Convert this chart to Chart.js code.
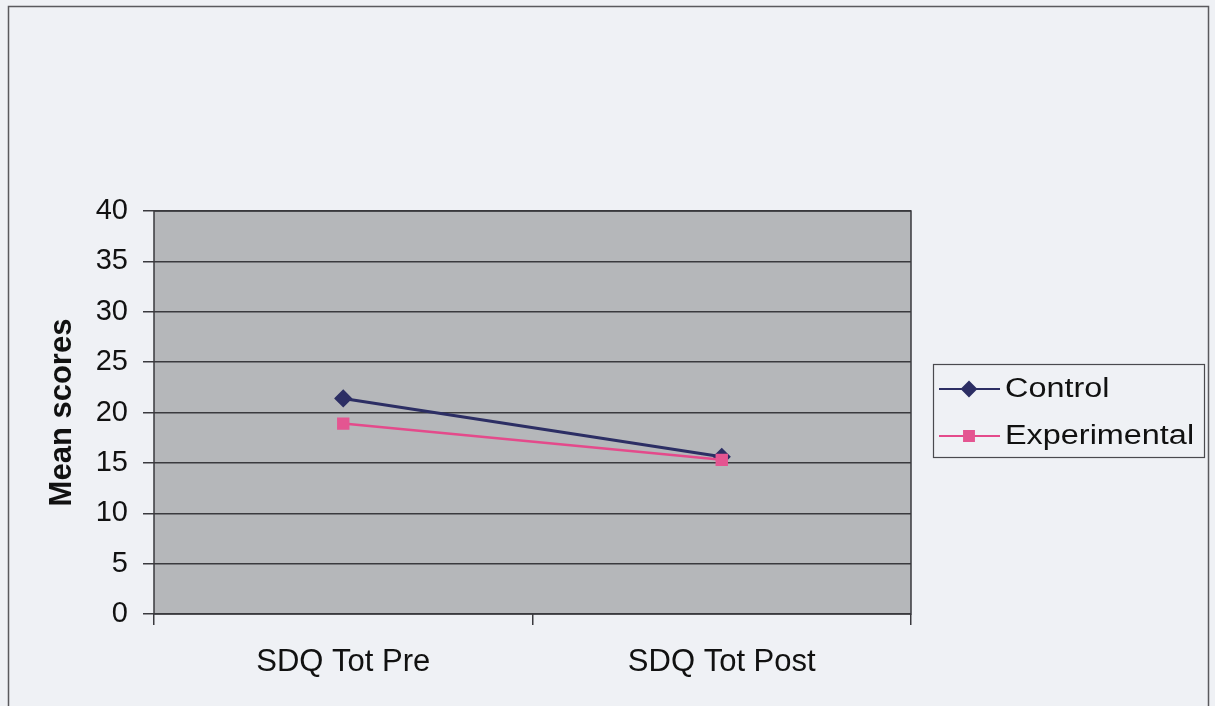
<!DOCTYPE html>
<html>
<head>
<meta charset="utf-8">
<script src="https://cdn.jsdelivr.net/npm/chart.js@4"></script>
<style>
  html, body { margin: 0; padding: 0; background: #eff1f5; }
  #wrap { width: 1215px; height: 706px; position: relative; }
</style>
</head>
<body>
<div id="wrap"><canvas id="c" width="1215" height="706"></canvas></div>
<script>
const categories = ["SDQ Tot Pre", "SDQ Tot Post"];
const controlScores = [21.4, 15.6];
const experimentalScores = [18.9, 15.3];
const yTicks = [0, 5, 10, 15, 20, 25, 30, 35, 40];

const FONT = "'Liberation Sans', Arial, sans-serif";

// Page frame, plot-area fill and border
const framePlugin = {
  id: 'frame',
  beforeDraw(chart) {
    const ctx = chart.ctx;
    const a = chart.chartArea;
    ctx.save();
    ctx.fillStyle = '#eff1f5';
    ctx.fillRect(0, 0, chart.width, chart.height);
    ctx.strokeStyle = '#5a5a5e';
    ctx.lineWidth = 1.5;
    ctx.strokeRect(8.5, 6.5, 1200, 720);
    ctx.fillStyle = '#b5b7ba';
    ctx.fillRect(a.left, a.top, a.right - a.left, a.bottom - a.top);
    ctx.restore();
  },
  afterDatasetsDraw(chart) {
    const ctx = chart.ctx;
    const a = chart.chartArea;
    ctx.save();
    ctx.strokeStyle = '#3a3a3e';
    ctx.lineWidth = 1.5;
    ctx.strokeRect(a.left, a.top, a.right - a.left, a.bottom - a.top);
    ctx.restore();
  }
};

// Boxed legend on the right, drawn from the dataset styles
const boxLegend = {
  id: 'boxLegend',
  afterDraw(chart) {
    const ctx = chart.ctx;
    const x0 = 933, y0 = 364, w = 271, h = 93;
    const entries = [chart.data.datasets[0], chart.data.datasets[1]];
    ctx.save();
    ctx.fillStyle = '#eff1f5';
    ctx.fillRect(x0, y0, w, h);
    ctx.strokeStyle = '#4a4a4e';
    ctx.lineWidth = 1.2;
    ctx.strokeRect(x0 + 0.5, y0 + 0.5, w, h);
    entries.forEach((ds, i) => {
      const cy = 389 + i * 47;
      ctx.strokeStyle = ds.borderColor;
      ctx.lineWidth = 2;
      ctx.beginPath();
      ctx.moveTo(939, cy);
      ctx.lineTo(1000, cy);
      ctx.stroke();
      ctx.fillStyle = ds.pointBackgroundColor;
      ctx.strokeStyle = ds.pointBorderColor;
      Chart.helpers.drawPoint(ctx, {
        pointStyle: ds.pointStyle, radius: ds.pointRadius, rotation: 0, borderWidth: 1
      }, 969, cy);
      ctx.save();
      ctx.translate(1005, cy);
      ctx.scale(1.2, 1);
      ctx.fillStyle = '#111';
      ctx.font = '27px ' + FONT;
      ctx.textBaseline = 'middle';
      ctx.textAlign = 'left';
      ctx.fillText(ds.label, 0, 1);
      ctx.restore();
    });
    ctx.restore();
  }
};

new Chart(document.getElementById('c'), {
  type: 'line',
  data: {
    labels: categories,
    datasets: [
      {
        label: 'Control',
        data: controlScores,
        order: 1,
        borderColor: '#2c2e64',
        borderWidth: 3,
        pointStyle: 'rectRot',
        pointRadius: 7,
        pointHoverRadius: 7,
        pointBackgroundColor: '#2c2e64',
        pointBorderColor: '#2c2e64',
        tension: 0
      },
      {
        label: 'Experimental',
        data: experimentalScores,
        order: 0,
        borderColor: '#e44a8b',
        borderWidth: 2.5,
        pointStyle: 'rect',
        pointRadius: 7,
        pointHoverRadius: 7,
        pointBackgroundColor: '#e45591',
        pointBorderColor: '#e45591',
        tension: 0
      }
    ]
  },
  options: {
    responsive: false,
    animation: false,
    devicePixelRatio: 1,
    layout: { padding: { top: 211, right: 304, left: 0, bottom: 0 } },
    plugins: {
      legend: { display: false },
      tooltip: { enabled: false }
    },
    scales: {
      x: {
        offset: true,
        grid: {
          offset: true,
          drawOnChartArea: false,
          drawTicks: true,
          tickLength: 11,
          color: '#3a3a3e',
          lineWidth: 1.5
        },
        border: { display: false },
        ticks: {
          color: '#111',
          font: { family: FONT, size: 31 },
          padding: 19,
          maxRotation: 0
        },
        afterFit(scale) { scale.height = 92; }
      },
      y: {
        min: 0,
        max: 40,
        afterBuildTicks(scale) { scale.ticks = yTicks.map(v => ({ value: v })); },
        grid: {
          color: '#3a3a3e',
          lineWidth: 1.5,
          tickLength: 11
        },
        border: { display: false },
        ticks: {
          color: '#111',
          font: { family: FONT, size: 29 },
          padding: 15
        },
        title: {
          display: true,
          text: 'Mean scores',
          color: '#111',
          font: { family: FONT, size: 31, weight: 'bold' },
          padding: { top: 44, bottom: 0 }
        },
        afterFit(scale) { scale.width = 154; }
      }
    }
  },
  plugins: [framePlugin, boxLegend]
});
</script>
</body>
</html>
